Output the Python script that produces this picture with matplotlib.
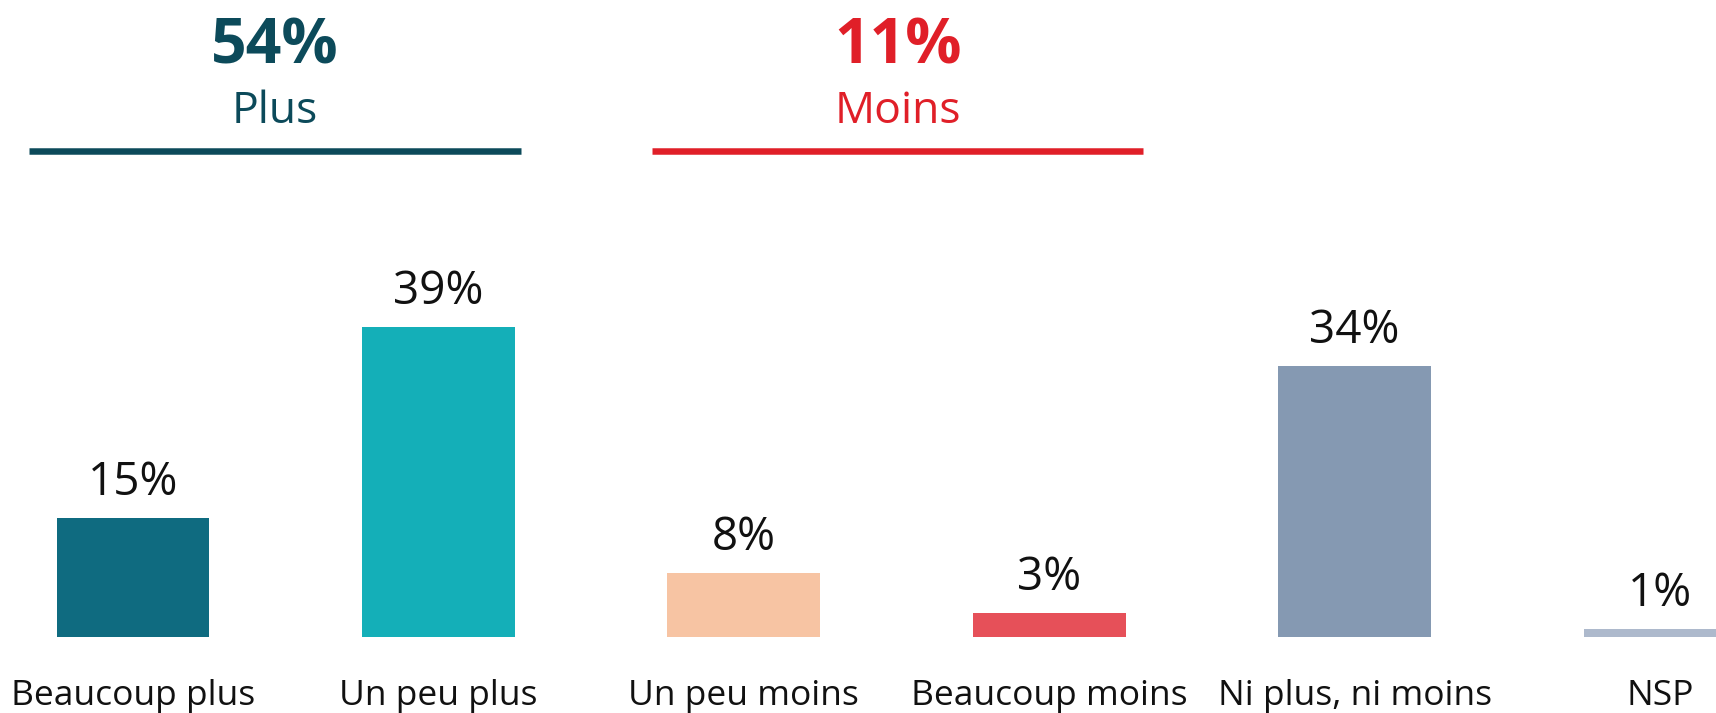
import matplotlib
matplotlib.use("Agg")
import matplotlib.pyplot as plt
import matplotlib.transforms as mtransforms

categories = ["Beaucoup plus", "Un peu plus", "Un peu moins", "Beaucoup moins", "Ni plus, ni moins", "NSP"]
values = [15, 39, 8, 3, 34, 1]
value_labels = ["15%", "39%", "8%", "3%", "34%", "1%"]
bar_colors = ["#0F6B80", "#14AFB8", "#F7C4A3", "#E65059", "#8599B2", "#ADB9CC"]

group_titles = ["54%", "11%"]
group_names = ["Plus", "Moins"]
group_colors = ["#0C4A5A", "#E01F28"]

plt.rcParams['font.family'] = ['Open Sans', 'DejaVu Sans']

W, H = 1716, 713
fig = plt.figure(figsize=(W / 100, H / 100), dpi=100)
ax = fig.add_axes([0, (H - 637) / H, 1, 637 / H])
px_per_unit = 305.4
x0 = 133
ax.set_xlim(-x0 / px_per_unit, (W - x0) / px_per_unit)
ax.set_ylim(0, 637 / 7.96)
ax.axis("off")

xs = list(range(len(categories)))
ax.bar(xs, values, width=0.5, color=bar_colors, clip_on=False)

for x, v, lab in zip(xs, values, value_labels):
    ax.annotate(lab, (x, v), xytext=(0, 23 * 72 / 100), textcoords="offset points",
                ha="center", va="baseline", fontsize=33, color="#111111")

trans = mtransforms.blended_transform_factory(ax.transData, fig.transFigure)
for x, c in zip(xs, categories):
    ax.text(x, (H - 705) / H, c, transform=trans, ha="center", va="baseline",
            fontsize=25.5, color="#111111")

# group headers
centers_px = [275, 898]
line_spans = [(29, 521), (652, 1143)]
for cx, (l, r), t, n, col in zip(centers_px, line_spans, group_titles, group_names, group_colors):
    fig.text(cx / W, (H - 63) / H, t, ha="center", va="baseline", fontsize=45,
             fontweight="bold", color=col)
    fig.text(cx / W, (H - 123) / H, n, ha="center", va="baseline", fontsize=32, color=col)
    fig.add_artist(plt.Line2D([l / W, r / W], [(H - 151) / H] * 2, transform=fig.transFigure,
                              color=col, linewidth=6.5 * 0.72, solid_capstyle="butt"))

fig.savefig("out.png", dpi=100)
